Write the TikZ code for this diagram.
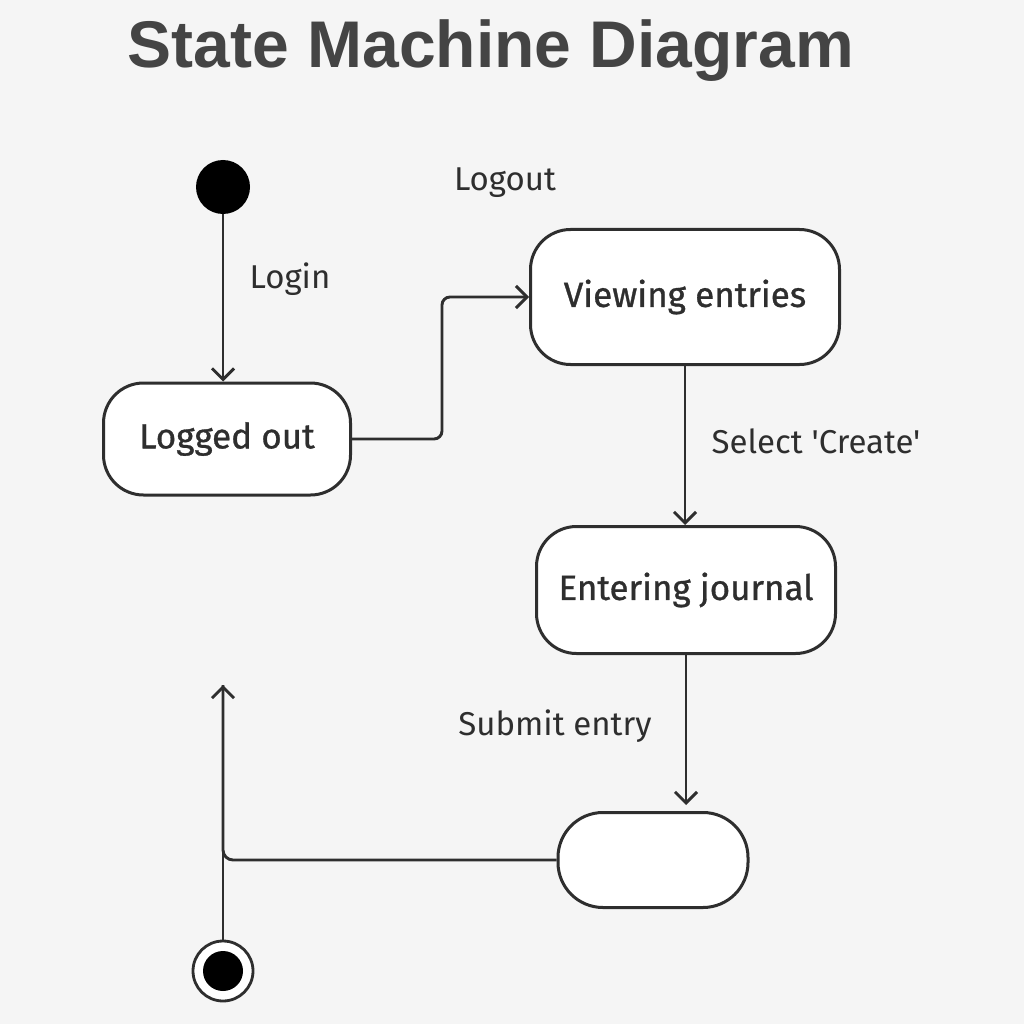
\documentclass[tikz,border=0pt]{standalone}
\usepackage{fontspec}
\setmainfont{Liberation Sans}
\newfontfamily\labelfont{Fira Sans}
\newfontfamily\statefont{Fira Sans}[FakeBold=0.9]
\usetikzlibrary{arrows.meta}

\definecolor{bg}{HTML}{F5F5F5}
\definecolor{ink}{HTML}{2E2E2E}
\definecolor{titlegray}{HTML}{444444}

\begin{document}
\begin{tikzpicture}[x=1pt, y=-1pt,
    line/.style={draw=ink, line width=2.9pt},
    flow/.style={line, -{Straight Barb[length=11pt, width=22pt]}},
    state/.style={draw=ink, line width=3pt, fill=white, rounded corners=40pt,
      font=\statefont\fontsize{35}{40}\selectfont, text=ink},
    event/.style={font=\labelfont\fontsize{33}{38}\selectfont, text=ink}]
  \useasboundingbox[fill=bg] (0,0) rectangle (1024,1024);

  \node[font=\bfseries\fontsize{66}{72}\selectfont, text=titlegray, anchor=base]
    (title) at (491,68) {State Machine Diagram};

  % states
  \node[circle, fill=black, minimum size=54pt, inner sep=0pt] (init) at (223,187) {};
  \node[state, minimum width=247pt, minimum height=112pt] (loggedout) at (227,439) {Logged out};
  \node[state, minimum width=309pt, minimum height=135pt] (viewing) at (685,297) {Viewing entries};
  \node[state, minimum width=299pt, minimum height=127pt] (entering) at (686,590) {Entering journal};
  \node[state, rounded corners=45pt, minimum width=190pt, minimum height=95pt] (done) at (653,860) {};
  \node[circle, draw=ink, line width=2.8pt, fill=white, minimum size=60pt, inner sep=0pt,
    path picture={\fill[black] (path picture bounding box.center) circle (20pt);}] (final) at (223,971) {};
  \coordinate (back) at (223,685);

  % events
  \node[event] (login) at (290,279) {Login};
  \node[event] (logout) at (505,183) {Logout};
  \node[event] (select) at (816,441) {Select 'Create'};
  \node[event] (submit) at (555,726) {Submit entry};

  % transitions
  \draw[flow] (init) -- (init |- loggedout.north);
  \draw[flow, rounded corners=8pt] (loggedout.east) -- ++(90,0) |- (viewing.west);
  \draw[flow] (viewing.south) -- (viewing.south |- entering.north);
  \draw[flow, shorten >=6pt] (entering.south) -- (entering.south |- done.north);
  \draw[line, rounded corners=10pt] (done.west) -| (back);
  \draw[flow] (final) -- (back);
\end{tikzpicture}
\end{document}
